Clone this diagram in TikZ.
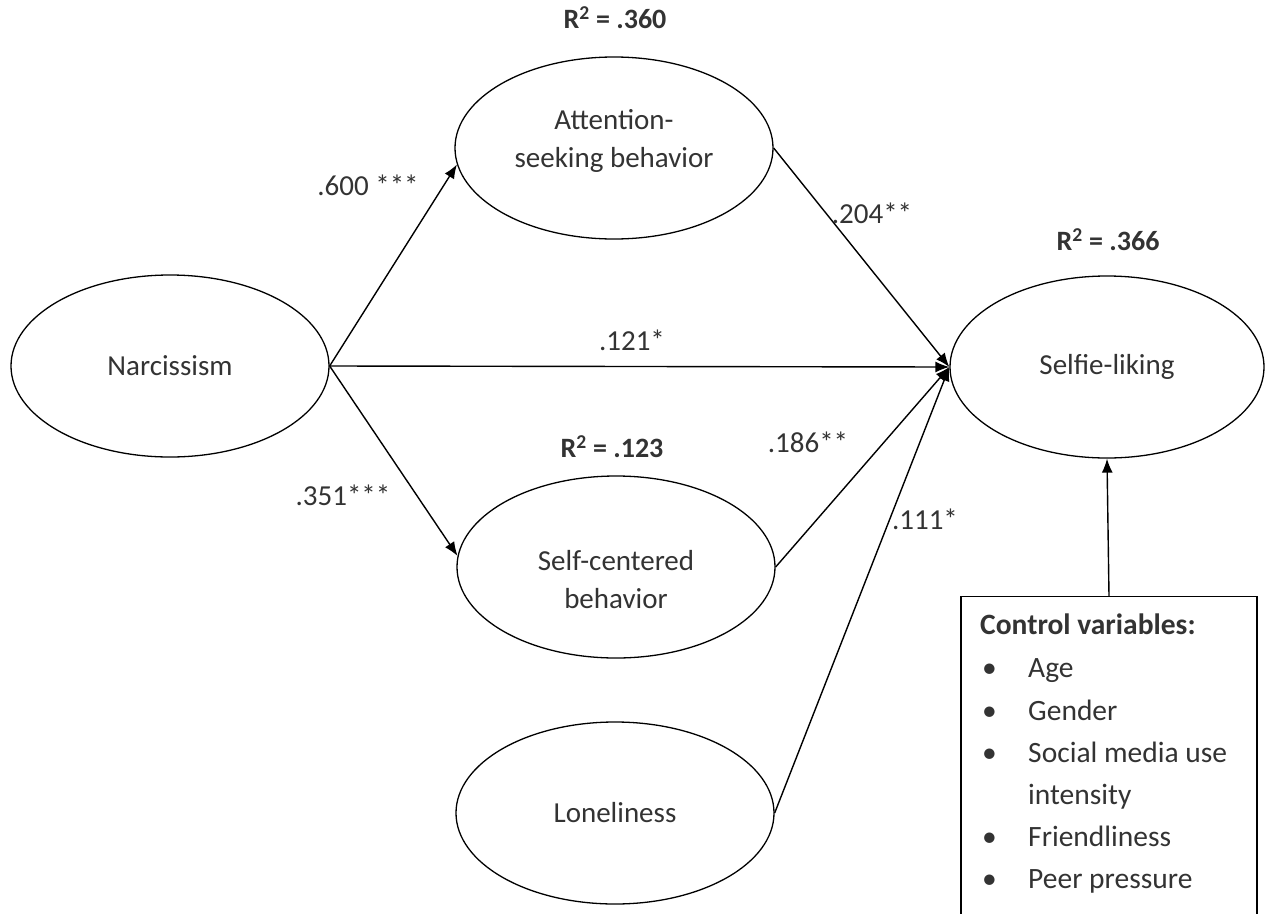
\documentclass[tikz,border=0pt]{standalone}
\usepackage{fontspec}
\setmainfont{Carlito}
\usetikzlibrary{shapes.geometric,arrows.meta}
\definecolor{txt}{HTML}{333333}
\tikzset{
  var/.style={draw, line width=1.3pt, ellipse, minimum width=318pt, minimum height=182pt, inner sep=0pt, align=center, text=txt, font=\fontsize{29}{35}\selectfont},
  vtext/.style={align=center, text=txt, inner sep=0pt, font=\fontsize{29}{38}\selectfont},
  path/.style={draw, line width=1.4pt, -{Latex[length=14pt,width=11pt]}},
  coef/.style={text=txt, font=\fontsize{29}{35}\selectfont, inner sep=0pt},
  rsq/.style={text=txt, font=\bfseries\fontsize{28}{34}\selectfont, inner sep=0pt},
  item/.style={text=txt, font=\fontsize{29.5}{34}\selectfont, inner sep=0pt, anchor=base west}
}
\begin{document}
\begin{tikzpicture}[x=1pt,y=-1pt]
\useasboundingbox (0,0) rectangle (1266,913);
\clip (0,0) rectangle (1266,913);
\node[var] (narc) at (170,366) {Narcissism};
\node[var] (att) at (614,148) {};
\node[vtext] (attt) at ([yshift=7pt]att.center) {Attention-\\seeking behavior};
\node[var] (sc) at (616,567) {};
\node[vtext] (sct) at ([yshift=-13pt]sc.center) {Self-centered\\behavior};
\node[var] (lon) at (615,813) {Loneliness};
\node[var, minimum width=314pt] (sel) at (1107,367) {Selfie-liking};
\node[draw, line width=1.3pt, minimum width=296pt, minimum height=340pt, anchor=north, inner sep=0pt] (ctrl) at (1109,596) {};
\node[rsq] (r1) at (615,18) {R\textsuperscript{2} = .360};
\node[rsq] (r2) at (1108,240) {R\textsuperscript{2} = .366};
\node[rsq] (r3) at (612,447) {R\textsuperscript{2} = .123};
\draw[path] (narc.east) -- (att.186);
\draw[path] (narc.east) -- (sc.176);
\draw[path] (narc.east) -- (sel.west);
\draw[path] (att.east) -- (sel.west);
\draw[path] (sc.east) -- (sel.west);
\draw[path] (lon.east) -- (sel.west);
\draw[path] (ctrl.north) -- (sel.south);
\node[coef] (c1) at (368,185) {.600 ***};
\node[coef] (c2) at (872,213) {.204**};
\node[coef] (c3) at (632,340) {.121*};
\node[coef] (c4) at (808,442) {.186**};
\node[coef] (c5) at (343,495) {.351***};
\node[coef] (c6) at (925,519) {.111*};
\node[item, font=\bfseries\fontsize{29.5}{34}\selectfont] (h) at (980,634) {Control variables:};
\foreach \n/\y/\t in {a/677/Age, b/720/Gender, c/762/Social media use, e/846/Friendliness, f/888/Peer pressure}{
  \node[item] (b\n) at (982,\y) {•};
  \node[item] (i\n) at (1028,\y) {\t};
}
\node[item] (id) at (1028,804) {intensity};
\end{tikzpicture}
\end{document}
